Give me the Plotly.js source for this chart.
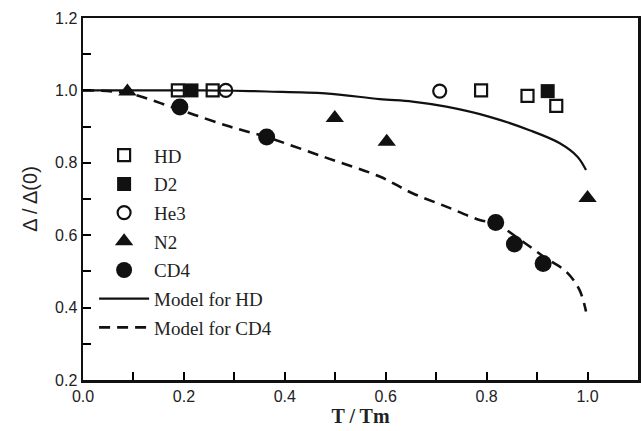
<!DOCTYPE html>
<html><head><meta charset="utf-8">
<script src="https://cdn.plot.ly/plotly-3.0.1.min.js"></script>
<style>html,body{margin:0;padding:0;background:#fff}#chart{width:641px;height:431px}</style>
</head><body><div id="chart"></div>
<script>
// Data
const hdX = [0.188, 0.257, 0.789, 0.881, 0.938];
const hdY = [1.0, 1.0, 1.0, 0.985, 0.957];
const d2X = [0.215, 0.921];
const d2Y = [1.0, 0.998];
const he3X = [0.283, 0.707];
const he3Y = [1.0, 0.998];
const n2X = [0.088, 0.499, 0.602, 1.0];
const n2Y = [0.997, 0.924, 0.858, 0.703];
const cd4X = [0.192, 0.364, 0.818, 0.855, 0.912];
const cd4Y = [0.954, 0.871, 0.635, 0.576, 0.522];
const modelHdX = [0.0, 0.1, 0.2, 0.3, 0.364, 0.48, 0.588, 0.653, 0.72, 0.806, 0.885, 0.945, 0.98, 0.997];
const modelHdY = [1.0, 1.0, 1.0, 0.999, 0.997, 0.992, 0.976, 0.969, 0.955, 0.927, 0.89, 0.854, 0.817, 0.78];
const modelCd4X = [0.0, 0.089, 0.192, 0.291, 0.364, 0.48, 0.588, 0.653, 0.72, 0.786, 0.818, 0.872, 0.918, 0.958, 0.984, 0.997];
const modelCd4Y = [1.0, 0.992, 0.946, 0.9, 0.871, 0.815, 0.762, 0.716, 0.679, 0.642, 0.632, 0.582, 0.536, 0.499, 0.449, 0.389];
// Tick marks every 0.1, labels every 0.2
const xTickVals = [0, 0.1, 0.2, 0.3, 0.4, 0.5, 0.6, 0.7, 0.8, 0.9, 1.0, 1.1];
const xTickText = ['0.0', '', '0.2', '', '0.4', '', '0.6', '', '0.8', '', '1.0', ''];
const yTickVals = [0.2, 0.3, 0.4, 0.5, 0.6, 0.7, 0.8, 0.9, 1.0, 1.1, 1.2];
const yTickText = ['0.2', '', '0.4', '', '0.6', '', '0.8', '', '1.0', '', '1.2'];

const ink = '#111';
const traces = [
  {name: 'HD', x: hdX, y: hdY, mode: 'markers', legendgroup: 'a',
   marker: {symbol: 'square-open', size: 12, color: ink, line: {width: 2.2, color: ink}}},
  {name: 'D2', x: d2X, y: d2Y, mode: 'markers', legendgroup: 'b',
   marker: {symbol: 'square', size: 14, color: ink}},
  {name: 'He3', x: he3X, y: he3Y, mode: 'markers', legendgroup: 'c',
   marker: {symbol: 'circle-open', size: 13, color: ink, line: {width: 2.2, color: ink}}},
  {name: 'N2', x: n2X, y: n2Y, mode: 'markers', legendgroup: 'd',
   marker: {symbol: 'triangle-up', size: 16, color: ink}},
  {name: 'CD4', x: cd4X, y: cd4Y, mode: 'markers', legendgroup: 'e',
   marker: {symbol: 'circle', size: 17, color: ink}},
  {name: 'Model for HD', x: modelHdX, y: modelHdY, mode: 'lines', legendgroup: 'f',
   line: {color: ink, width: 2.2, shape: 'spline'}},
  {name: 'Model for CD4', x: modelCd4X, y: modelCd4Y, mode: 'lines', legendgroup: 'g',
   line: {color: ink, width: 2.6, dash: '11px,7px', shape: 'spline'}}
];

const axisCommon = {
  showgrid: false, zeroline: false, showline: true, linecolor: ink, linewidth: 2.5,
  mirror: true, ticks: 'inside', ticklen: 8, tickwidth: 2, tickcolor: '#000',
  tickmode: 'array',
  tickfont: {family: 'Liberation Sans, Arial, sans-serif', size: 16, color: '#222'}
};

const layout = {
  width: 641, height: 431,
  margin: {l: 83, r: 3, t: 18, b: 51},
  paper_bgcolor: '#fff', plot_bgcolor: '#fff',
  showlegend: true,
  legend: {x: 0.02, y: 0.673, xanchor: 'left', yanchor: 'top', bgcolor: 'rgba(0,0,0,0)',
    traceorder: 'grouped', tracegroupgap: 1, itemwidth: 50,
    font: {family: 'Liberation Serif, Times New Roman, serif', size: 19, color: '#222'}},
  xaxis: Object.assign({}, axisCommon, {range: [0, 1.1], tickvals: xTickVals, ticktext: xTickText,
    title: {text: '<b>T / Tm</b>', standoff: 5,
      font: {family: 'Liberation Serif, Times New Roman, serif', size: 20, color: '#222'}}}),
  yaxis: Object.assign({}, axisCommon, {range: [0.2, 1.2], tickvals: yTickVals, ticktext: yTickText,
    title: {text: 'Δ / Δ(0)', standoff: 12,
      font: {family: 'Liberation Sans, Arial, sans-serif', size: 20, color: '#222'}}})
};

Plotly.newPlot('chart', traces, layout, {staticPlot: true, displayModeBar: false});
</script></body></html>
